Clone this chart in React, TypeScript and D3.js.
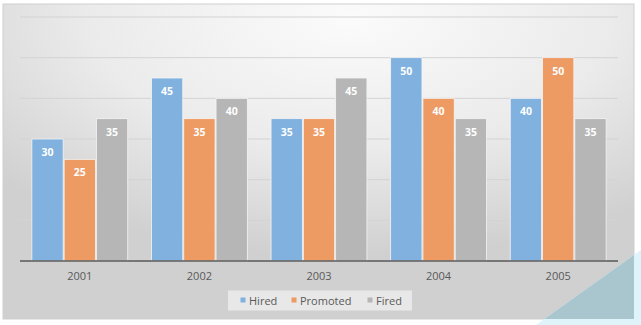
import React from "react";
import * as d3 from "d3";

const years = ["2001", "2002", "2003", "2004", "2005"];
const seriesNames = ["Hired", "Promoted", "Fired"];
const hired = [30, 45, 35, 50, 40];
const promoted = [25, 35, 35, 40, 50];
const fired = [35, 40, 45, 35, 35];
const yTicks = [0, 10, 20, 30, 40, 50, 60];

const colors = ["#80b1df", "#ee9a63", "#b6b6b6"];

export default function App() {
  const W = 641, H = 325;
  const left = 20, right = 618, top = 17, bottom = 261;
  const x0 = d3.scaleBand<string>().domain(years).range([left, right]).paddingInner(0.19).paddingOuter(0.095);
  const x1 = d3.scaleBand<string>().domain(seriesNames).range([0, x0.bandwidth()]).padding(0);
  const y = d3.scaleLinear().domain([0, 60]).range([bottom, top]);
  const values = [hired, promoted, fired];

  const tri = `${641},${250} ${536},${325} ${641},${325}`;
  const legendItems = [
    { name: "Hired", mx: 240.5, tx: 249 },
    { name: "Promoted", mx: 291.5, tx: 300 },
    { name: "Fired", mx: 367.5, tx: 376 },
  ];

  return (
    <svg width={W} height={H} style={{ position: "absolute", left: 0, top: 0 }} fontFamily="'Open Sans', 'DejaVu Sans', sans-serif">
      <defs>
        <radialGradient id="bg" cx="0.55" cy="0.05" r="0.75">
          <stop offset="0" stopColor="#fbfbfb" />
          <stop offset="0.55" stopColor="#ebebeb" />
          <stop offset="1" stopColor="#d0d0d0" />
        </radialGradient>
        <clipPath id="frameClip">
          <rect x={3} y={4} width={631} height={315} />
        </clipPath>
      </defs>
      <rect x={0} y={0} width={W} height={H} fill="#ffffff" />
      <rect x={3} y={4} width={631} height={315} fill="url(#bg)" stroke="#cfcfcf" strokeWidth={1} />
      {yTicks.filter((t) => t > 0).map((t) => (
        <line key={t} x1={left} x2={right} y1={y(t)} y2={y(t)} stroke="#d3d3d3" strokeWidth={1} />
      ))}
      {years.map((yr, i) => (
        <g key={yr} transform={`translate(${x0(yr)},0)`}>
          {seriesNames.map((s, j) => {
            const v = values[j][i];
            const bx = x1(s)!;
            const bw = x1.bandwidth();
            return (
              <g key={s}>
                <rect x={bx + 0.5} y={y(v)} width={bw - 1} height={y(0) - y(v)} fill={colors[j]} stroke="#f4f4f4" strokeWidth={0.8} />
                <text x={bx + bw / 2} y={y(v) + 17} textAnchor="middle" fill="#ffffff" fontSize={10.5} fontWeight="bold">{v}</text>
              </g>
            );
          })}
        </g>
      ))}
      <line x1={left} x2={right} y1={bottom} y2={bottom} stroke="#595959" strokeWidth={1.5} />
      {years.map((yr) => (
        <text key={yr} x={x0(yr)! + x0.bandwidth() / 2} y={280} textAnchor="middle" fill="#595959" fontSize={11}>{yr}</text>
      ))}
      <rect x={228} y={290.5} width={184} height={20} fill="#e8e8e8" />
      {legendItems.map((it, j) => (
        <g key={it.name}>
          <rect x={it.mx} y={297.5} width={5} height={5} fill={colors[j]} />
          <text x={it.tx} y={304.5} fill="#595959" fontSize={11}>{it.name}</text>
        </g>
      ))}
      <polygon points={tri} fill="#def4fa" />
      <polygon points={tri} fill="#a9c6cf" clipPath="url(#frameClip)" />
    </svg>
  );
}
